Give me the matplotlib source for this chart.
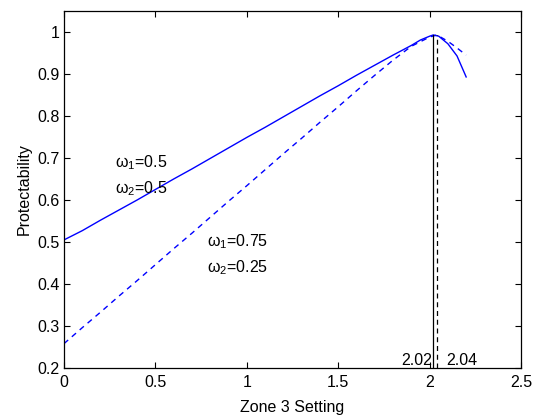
import matplotlib
matplotlib.use('Agg')
import matplotlib.pyplot as plt

plt.rcParams['font.family'] = ['Liberation Sans', 'DejaVu Sans']
plt.rcParams['mathtext.fontset'] = 'custom'
plt.rcParams['mathtext.rm'] = 'Liberation Sans'
plt.rcParams['font.size'] = 11.5

# w1=0.5, w2=0.5 (solid)
x_a = [0, 0.1, 0.2, 0.3, 0.4, 0.5, 0.6, 0.7, 0.8, 0.9, 1.0, 1.1, 1.2, 1.3,
       1.4, 1.5, 1.6, 1.7, 1.8, 1.9, 1.95, 2.0, 2.02, 2.05, 2.1, 2.15, 2.2]
y_a = [0.505, 0.527, 0.552, 0.576, 0.600, 0.625, 0.650, 0.674, 0.699, 0.724,
       0.749, 0.773, 0.798, 0.823, 0.848, 0.872, 0.897, 0.921, 0.945, 0.968,
       0.981, 0.990, 0.993, 0.990, 0.972, 0.943, 0.893]

# w1=0.75, w2=0.25 (dashed)
x_b = [0, 0.1, 0.2, 0.3, 0.4, 0.5, 0.6, 0.7, 0.8, 0.9, 1.0, 1.1, 1.2, 1.3,
       1.4, 1.5, 1.6, 1.7, 1.8, 1.9, 2.0, 2.04, 2.1, 2.15, 2.2]
y_b = [0.258, 0.296, 0.333, 0.371, 0.408, 0.446, 0.484, 0.521, 0.559, 0.597,
       0.634, 0.672, 0.710, 0.747, 0.785, 0.822, 0.860, 0.897, 0.933, 0.966,
       0.988, 0.993, 0.978, 0.962, 0.945]

opt_a = 2.02
opt_b = 2.04
peak = 0.993

fig = plt.figure(figsize=(5.39, 4.17), dpi=100)
ax = fig.add_axes([0.1187, 0.1175, 0.8479, 0.8561])

ax.plot(x_a, y_a, color='#0000ff', lw=1.0)
ax.plot(x_b, y_b, color='#0000ff', lw=1.0, dashes=(4, 3.5))
ax.plot([opt_a, opt_a], [0.2, peak], color='k', lw=0.9)
ax.plot([opt_b, opt_b], [0.2, peak], color='k', lw=0.9, dashes=(4, 3))

ax.text(2.015, 0.199, '2.02', ha='right', va='bottom')
ax.text(2.09, 0.199, '2.04', ha='left', va='bottom')

ax.text(0.28, 0.688, r'ω$_1$=0.5', va='center')
ax.text(0.28, 0.626, r'ω$_2$=0.5', va='center')
ax.text(0.78, 0.502, r'ω$_1$=0.75', va='center')
ax.text(0.78, 0.438, r'ω$_2$=0.25', va='center')

ax.set_xlim(0, 2.5)
ax.set_ylim(0.2, 1.05)
ax.set_xticks([0, 0.5, 1, 1.5, 2, 2.5])
ax.set_xticklabels(['0', '0.5', '1', '1.5', '2', '2.5'])
ax.set_yticks([0.2, 0.3, 0.4, 0.5, 0.6, 0.7, 0.8, 0.9, 1])
ax.set_yticklabels(['0.2', '0.3', '0.4', '0.5', '0.6', '0.7', '0.8', '0.9', '1'])
ax.tick_params(direction='in', top=True, right=True, length=4, width=0.8)
ax.tick_params(axis='x', pad=5)
ax.tick_params(axis='y', pad=3)
for s in ax.spines.values():
    s.set_linewidth(0.9)

ax.set_xlabel('Zone 3 Setting', labelpad=7)
ax.set_ylabel('Protectability', labelpad=4)

fig.savefig('out.png', dpi=100)
